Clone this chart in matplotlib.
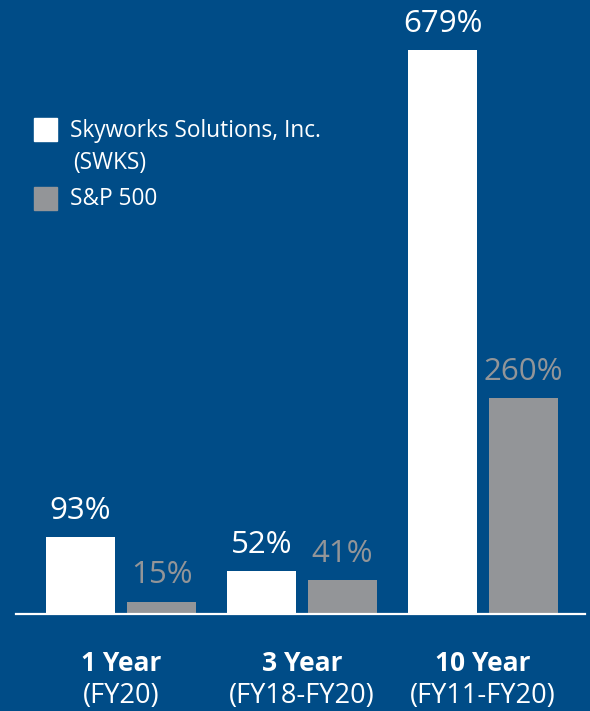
import matplotlib
matplotlib.use("Agg")
import matplotlib.pyplot as plt
from matplotlib.patches import Rectangle

# data
periods = ["1 Year", "3 Year", "10 Year"]
ranges = ["(FY20)", "(FY18-FY20)", "(FY11-FY20)"]
swks = [93, 52, 679]
sp500 = [15, 41, 260]
series_names = ["Skyworks Solutions, Inc.\n(SWKS)", "S&P 500"]

bg = "#004c87"
white = "#ffffff"
gray = "#939598"

plt.rcParams['font.family'] = ['Open Sans', 'Noto Sans', 'DejaVu Sans']

fig = plt.figure(figsize=(5.9, 7.11), dpi=100, facecolor=bg)
ax = fig.add_axes([0, 1 - 614/711, 1, 614/711])
ax.set_facecolor(bg)

x = list(range(len(periods)))
w = 0.381
off = 0.224
b1 = ax.bar([i - off for i in x], swks, width=w, color=white)
b2 = ax.bar([i + off for i in x], sp500, width=w, color=gray)

for bars, vals, col in [(b1, swks, white), (b2, sp500, gray)]:
	for b, v in zip(bars, vals):
		ax.annotate(str(v) + "%", (b.get_x() + b.get_width()/2, v),
			xytext=(0, 8), textcoords="offset points",
			ha="center", va="bottom", fontsize=22.5, color=col)

ax.set_xlim(-0.6685, 2.591)
ax.set_ylim(0, 739)
ax.axhline(0, xmin=16/590, xmax=585/590, color=white, lw=1.6, clip_on=False)
for s in ax.spines.values():
	s.set_visible(False)
ax.set_xticks([])
ax.set_yticks([])

# category labels under the axis
for i in x:
	ax.annotate(periods[i], (i, 0), xytext=(0, -35.5), textcoords="offset points",
		ha="center", va="center", fontsize=19, fontweight="bold", color=white,
		annotation_clip=False)
	ax.annotate(ranges[i], (i, 0), xytext=(0, -59), textcoords="offset points",
		ha="center", va="center", fontsize=19.5, color=white,
		annotation_clip=False)

# legend drawn by hand
fig.patches.append(Rectangle((34/590, 1 - 141/711), 23/590, 23/711,
	transform=fig.transFigure, color=white))
fig.patches.append(Rectangle((34/590, 1 - 210/711), 23/590, 23/711,
	transform=fig.transFigure, color=gray))
fig.text(70/590, 1 - 131/711, "Skyworks Solutions, Inc.", fontsize=16.3,
	color=white, va="center", ha="left")
fig.text(73/590, 1 - 163/711, "(SWKS)", fontsize=16.3,
	color=white, va="center", ha="left")
fig.text(70/590, 1 - 199/711, series_names[1], fontsize=16.3,
	color=white, va="center", ha="left")

fig.savefig("out.png", dpi=100, facecolor=bg)
